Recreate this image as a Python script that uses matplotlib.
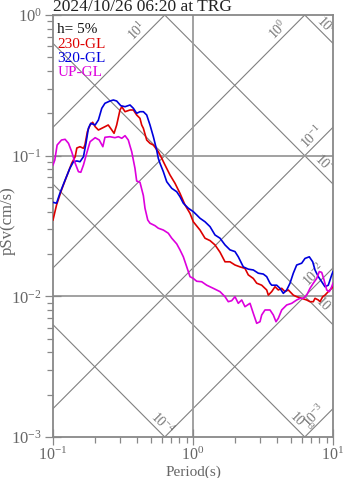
import numpy as np
import matplotlib
matplotlib.use("Agg")
import matplotlib.pyplot as plt
from matplotlib.ticker import LogLocator, NullFormatter

plt.rcParams['font.family'] = 'serif'
plt.rcParams['font.serif'] = ['Liberation Serif', 'DejaVu Serif']
plt.rcParams['mathtext.fontset'] = 'custom'
plt.rcParams['mathtext.rm'] = 'Liberation Serif'
plt.rcParams['mathtext.it'] = 'Liberation Serif:italic'
plt.rcParams['mathtext.bf'] = 'Liberation Serif:bold'
plt.rcParams['axes.unicode_minus'] = False

title = "2024/10/26 06:20 at TRG"
damping_label = "h= 5%"
series_names = ["230-GL", "320-GL", "UP-GL"]
series_colors = ["#dd0000", "#0000dd", "#dd00dd"]

# pseudo-velocity response spectra (period in s, pSv in cm/s)
period_230 = [0.100, 0.106, 0.115, 0.125, 0.136, 0.144, 0.148, 0.156, 0.165, 0.169,
              0.176, 0.184, 0.192, 0.200, 0.211, 0.223, 0.235, 0.248, 0.263, 0.273,
              0.285, 0.301, 0.310, 0.327, 0.355, 0.375, 0.396, 0.418, 0.430, 0.442,
              0.467, 0.493, 0.521, 0.565, 0.598, 0.631, 0.685, 0.744, 0.807, 0.877,
              0.952, 1.005, 1.122, 1.218, 1.323, 1.436, 1.559, 1.693, 1.837, 1.995,
              2.166, 2.351, 2.483, 2.696, 2.851, 3.095, 3.360, 3.451, 3.649, 3.852,
              4.068, 4.301, 4.541, 4.794, 5.205, 5.504, 5.975, 6.488, 6.851, 7.233,
              7.437, 7.852, 8.075, 8.442, 8.767, 9.256, 9.788, 10.0]
psv_230 = [0.0349, 0.0446, 0.0570, 0.0709, 0.0883, 0.0983, 0.1134, 0.1158, 0.1128, 0.1190,
           0.1480, 0.1652, 0.1727, 0.1607, 0.1522, 0.1565, 0.1607, 0.1652, 0.1522, 0.1442,
           0.1652, 0.2112, 0.2229, 0.2054, 0.2112, 0.2112, 0.1946, 0.1843, 0.1652, 0.1565,
           0.1292, 0.1224, 0.1190, 0.1067, 0.0958, 0.0858, 0.0729, 0.0636, 0.0540, 0.0446,
           0.0389, 0.0339, 0.0296, 0.0259, 0.0249, 0.0232, 0.0206, 0.0176, 0.0176, 0.0167,
           0.0162, 0.0158, 0.0142, 0.0134, 0.0124, 0.0120, 0.0111, 0.0102, 0.0108, 0.0117,
           0.0111, 0.0114, 0.0108, 0.0111, 0.0102, 0.00994, 0.00968, 0.00942, 0.00916, 0.00916,
           0.00968, 0.00942, 0.00916, 0.00994, 0.0102, 0.0108, 0.0114, 0.0118]

period_320 = [0.100, 0.106, 0.112, 0.122, 0.132, 0.140, 0.148, 0.156, 0.165, 0.172,
              0.179, 0.186, 0.200, 0.211, 0.223, 0.235, 0.255, 0.270, 0.285, 0.305,
              0.327, 0.355, 0.375, 0.396, 0.418, 0.442, 0.467, 0.493, 0.521, 0.550,
              0.565, 0.581, 0.614, 0.649, 0.705, 0.765, 0.807, 0.853, 0.926, 1.005,
              1.063, 1.122, 1.218, 1.323, 1.436, 1.559, 1.693, 1.837, 1.995, 2.106,
              2.287, 2.483, 2.696, 2.927, 3.178, 3.360, 3.548, 3.649, 3.962, 4.183,
              4.416, 4.670, 4.931, 5.205, 5.504, 5.975, 6.310, 6.772, 7.161, 7.437,
              7.852, 8.305, 8.767, 9.256, 9.788, 10.0]
psv_320 = [0.0466, 0.0459, 0.0540, 0.0671, 0.0813, 0.0906, 0.0917, 0.0906, 0.0983, 0.1224,
           0.1565, 0.1699, 0.1652, 0.1793, 0.2171, 0.2357, 0.2446, 0.2487, 0.2446, 0.2266,
           0.2229, 0.2292, 0.2171, 0.2001, 0.2054, 0.2054, 0.1946, 0.1652, 0.1364, 0.1097,
           0.0958, 0.0883, 0.0769, 0.0653, 0.0586, 0.0554, 0.0511, 0.0459, 0.0423, 0.0400,
           0.0379, 0.0359, 0.0339, 0.0313, 0.0273, 0.0259, 0.0232, 0.0214, 0.0208, 0.0191,
           0.0162, 0.0156, 0.0154, 0.0146, 0.0144, 0.0138, 0.0124, 0.0120, 0.0120, 0.0114,
           0.0105, 0.0111, 0.0124, 0.0146, 0.0167, 0.0172, 0.0186, 0.0191, 0.0176, 0.0154,
           0.0138, 0.0127, 0.0117, 0.0120, 0.0142, 0.0150]

period_up = [0.100, 0.103, 0.107, 0.115, 0.122, 0.129, 0.136, 0.144, 0.152, 0.158,
             0.165, 0.174, 0.184, 0.200, 0.214, 0.227, 0.235, 0.255, 0.277, 0.293,
             0.310, 0.327, 0.345, 0.355, 0.365, 0.385, 0.396, 0.418, 0.442, 0.454,
             0.475, 0.493, 0.535, 0.565, 0.614, 0.666, 0.705, 0.765, 0.807, 0.853,
             0.902, 0.952, 1.005, 1.063, 1.154, 1.253, 1.396, 1.559, 1.693, 1.787,
             1.889, 1.995, 2.106, 2.228, 2.351, 2.554, 2.696, 2.851, 3.010, 3.095,
             3.268, 3.548, 3.747, 3.916, 4.068, 4.301, 4.670, 5.070, 5.504, 5.810,
             6.137, 6.488, 6.851, 7.233, 7.648, 7.982, 8.305, 8.624, 9.016, 9.410,
             9.788, 10.0]
psv_up = [0.0858, 0.0931, 0.1190, 0.1292, 0.1307, 0.1224, 0.1067, 0.0883, 0.0769, 0.0762,
          0.0858, 0.1039, 0.1257, 0.1342, 0.1292, 0.1158, 0.1351, 0.1364, 0.1342, 0.1364,
          0.1329, 0.1387, 0.1292, 0.1170, 0.1067, 0.0813, 0.0660, 0.0647, 0.0520, 0.0423,
          0.0349, 0.0331, 0.0318, 0.0305, 0.0296, 0.0281, 0.0259, 0.0236, 0.0214, 0.0191,
          0.0162, 0.0138, 0.0134, 0.0128, 0.0127, 0.0120, 0.0114, 0.0108, 0.00994, 0.00916,
          0.00931, 0.00994, 0.00892, 0.00942, 0.00844, 0.00892, 0.00757, 0.00643, 0.00660, 0.00737,
          0.00800, 0.00800, 0.00737, 0.00660, 0.00698, 0.00800, 0.00868, 0.00892, 0.00942, 0.00968,
          0.00968, 0.0102, 0.0114, 0.0124, 0.0134, 0.0150, 0.0148, 0.0131, 0.0111, 0.0108,
          0.0117, 0.0124]

# tripartite guide lines: constant acceleration (gal) and constant displacement (cm)
guide_exponents = list(range(-5, 3))
# labelled guide lines: (exponent, period at which the label sits)
accel_labels = [(1, 0.44), (0, 4.5), (-1, 7.8), (-2, 8.1), (-3, 8.1)]
disp_labels = [(0, 8.2), (-1, 8.1), (-2, 8.2), (-3, 5.4), (-4, 0.55)]

W, H = 347, 478
fig = plt.figure(figsize=(W / 100, H / 100), dpi=100)
ax = fig.add_axes([53 / W, 41 / H, 280 / W, 422 / H])
ax.set_xscale('log')
ax.set_yscale('log')
ax.set_xlim(0.1, 10)
ax.set_ylim(1e-3, 1)

two_pi = 2 * np.pi
guide_color = '#808080'
t_span = np.array([0.01, 100.0])
for k in guide_exponents:
    ax.plot(t_span, 10.0 ** k * t_span / two_pi, color=guide_color, lw=0.8, zorder=1)
    ax.plot(t_span, two_pi * 10.0 ** k / t_span, color=guide_color, lw=0.8, zorder=1)

for k, t in accel_labels:
    ax.text(t, 10.0 ** k * t / two_pi, r'$\mathdefault{10^{%d}}$' % k,
            rotation=45, rotation_mode='anchor', ha='center', va='bottom',
            fontsize=10, color='#777777', zorder=2, clip_on=True)
for k, t in disp_labels:
    ax.text(t, two_pi * 10.0 ** k / t, r'$\mathdefault{10^{%d}}$' % k,
            rotation=-45, rotation_mode='anchor', ha='center', va='bottom',
            fontsize=10, color='#777777', zorder=2, clip_on=True)

grid_color = '#9a9a9a'
ax.axvline(1.0, color=grid_color, lw=1.3, zorder=1)
for yv in (0.1, 0.01):
    ax.axhline(yv, color=grid_color, lw=1.3, zorder=1)

for per, sv, col in zip([period_230, period_320, period_up],
                        [psv_230, psv_320, psv_up], series_colors):
    ax.plot(per, sv, color=col, lw=1.2, zorder=3)

for sp in ax.spines.values():
    sp.set_color('#888888')
    sp.set_linewidth(1.3)

ax.xaxis.set_major_locator(LogLocator(base=10, numticks=10))
ax.yaxis.set_major_locator(LogLocator(base=10, numticks=10))
ax.xaxis.set_minor_locator(LogLocator(base=10, subs=np.arange(2, 10), numticks=20))
ax.yaxis.set_minor_locator(LogLocator(base=10, subs=np.arange(2, 10), numticks=20))
ax.xaxis.set_minor_formatter(NullFormatter())
ax.yaxis.set_minor_formatter(NullFormatter())
ax.tick_params(which='major', direction='inout', length=12, width=0.9,
               color='#888888', labelcolor='#666666', labelsize=12, pad=2)
ax.tick_params(which='minor', direction='out', length=4, width=0.9, color='#888888')
ax.tick_params(axis='x', which='major', pad=1, labelsize=11.5)

fig.text(193 / W, 1 - 472 / H, 'Period(s)', ha='center', va='center',
         fontsize=11, color='#666666')
fig.text(8 / W, 1 - 221 / H, 'pSv(cm/s)', ha='center', va='center',
         rotation=90, fontsize=12, color='#666666')

fig.text(53 / W, 1 - 11 / H, title, ha='left', va='baseline',
         fontsize=12.5, color='#222222')

legend_y = [29.5, 44, 58.5, 73]
legend_txt = [damping_label] + series_names
legend_col = ['#111111'] + series_colors
for yp, txt, col in zip(legend_y, legend_txt, legend_col):
    ax.text(4.5 / 280, 1 - (yp - 15) / 422, txt, transform=ax.transAxes,
            ha='left', va='center', fontsize=11, color=col, zorder=4)

fig.savefig('out.png', dpi=100)
